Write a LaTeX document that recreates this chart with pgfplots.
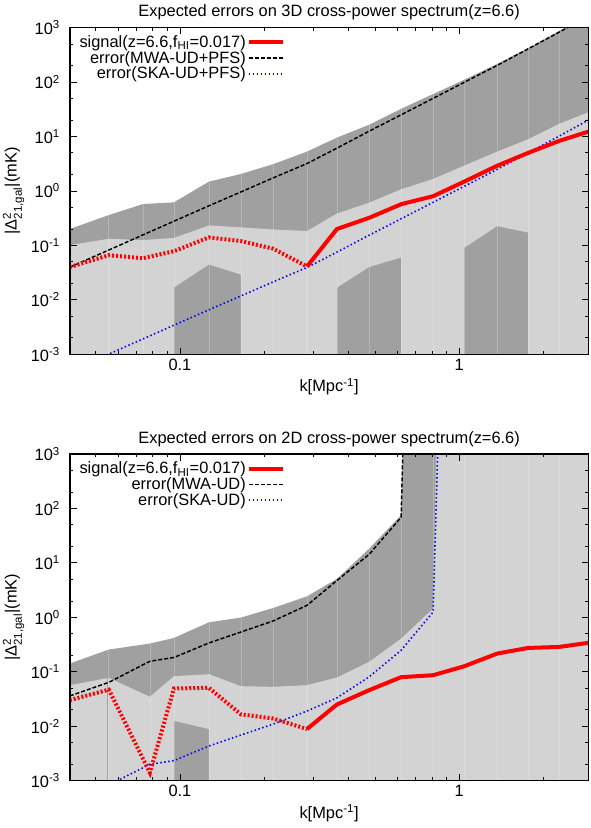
\documentclass[border=0pt]{standalone}
\usepackage{fontspec}
\setmainfont{Liberation Sans}
\usepackage{amsmath}
\usepackage{pgfplots}
\pgfplotsset{compat=1.18}
\definecolor{darkfill}{RGB}{160,160,160}
\definecolor{lightfill}{RGB}{211,211,211}
\newcommand{\ff}{\fontsize{12.3}{14}\selectfont}
\pgfplotsset{legend image code/.code={\draw[#1] (0pt,0pt) -- (25.5pt,0pt);}}
\pgfplotsset{
  every axis/.append style={
    scale only axis, width=388.7pt, height=245pt,
    xmin=0.0404, xmax=2.9, ymin=1e-3, ymax=1e3,
    xtick={0.1,1}, xticklabels={0.1,1},
    minor xtick={0.05,0.06,0.07,0.08,0.09,0.2,0.3,0.4,0.5,0.6,0.7,0.8,0.9,2},
    ytick={1e-3,1e-2,1e-1,1,10,100,1000},
    yticklabels={10\textsuperscript{-3},10\textsuperscript{-2},10\textsuperscript{-1},10\textsuperscript{0},10\textsuperscript{1},10\textsuperscript{2},10\textsuperscript{3}},
    minor ytick={2e-3,5e-3,2e-2,5e-2,0.2,0.5,2,5,20,50,200,500},
    tick align=inside, major tick length=5pt, minor tick length=2.6pt,
    axis line style={line width=0.9pt},
    axis on top,
    tick label style={font=\ff},
    yticklabel style={xshift=-4pt},
    every axis title shift=0pt,
    title style={at={(0.5,1)}, anchor=base, yshift=8pt, font=\ff},
    xlabel={k[Mpc\textsuperscript{-1}]},
    xlabel style={at={(0.5,0)}, anchor=base, yshift=-28.3pt, font=\ff},
    ylabel={|Δ$^{\text{2}}_{\text{21,gal}}$|(mK)},
    ylabel style={at={(axis description cs:-0.109,0.5)}, anchor=center, font=\ff},
    legend style={at={(axis description cs:0.4225,0.988)}, anchor=north east, draw=none, fill=none,
      nodes={inner sep=0.7pt}, font=\ff,
      /tikz/every even column/.append style={column sep=5pt}},
    legend cell align=right,
    legend plot pos=right,
    unbounded coords=jump,
  },
  every tick/.append style={black, line width=0.6pt},
}
\begin{document}
\begin{tikzpicture}
\path[use as bounding box] (0,0) rectangle (442.5pt,621pt);
% ---------------- top panel ----------------
\begin{loglogaxis}[at={(52.5pt,355.3pt)}, anchor=south west,
  title={Expected errors on 3D cross-power spectrum(z=6.6)}]
\addlegendimage{red, line width=3pt}\addlegendentry{signal(z=6.6,f\textsubscript{HI}=0.017)}
\addlegendimage{black, line width=1.1pt, dash pattern=on 3pt off 1.5pt}\addlegendentry{error(MWA-UD+PFS)}
\addlegendimage{blue, line width=1.2pt, dash pattern=on 1.1pt off 1.9pt}\addlegendentry{error(SKA-UD+PFS)}
% dark band
\addplot[fill=darkfill, draw=none, forget plot] coordinates {
(0.04034,0.20) (0.05565,0.36) (0.07371,0.574) (0.09517,0.617) (0.12700,1.48) (0.16544,2.05)
(0.21544,3.09) (0.28514,5.27) (0.36530,9.55) (0.47586,16.4) (0.61966,32.2) (0.80675,60.1)
(1.0421,110) (1.3683,215) (1.7674,420) (2.2829,870) (2.9483,1800) (2.9483,1e-4) (0.04034,1e-4)} -- cycle;
% light band
\addplot[fill=lightfill, draw=none, forget plot] coordinates {
(0.04034,0.101) (0.05565,0.132) (0.07371,0.125) (0.09517,0.137) (0.12700,0.232) (0.16544,0.214)
(0.21544,0.196) (0.28514,0.183) (0.36530,0.386) (0.47586,0.607) (0.61966,1.07) (0.80675,1.66)
(1.0421,2.91) (1.3683,5.27) (1.7674,8.9) (2.2829,17.1) (2.9483,28.8)
(2.9483,1e-4) (1.7674,1e-4) (1.7674,0.172) (1.3683,0.226) (1.0421,0.090) (1.0421,1e-4)
(0.61966,1e-4) (0.61966,0.060) (0.47586,0.040) (0.36530,0.0168) (0.36530,1e-4)
(0.16544,1e-4) (0.16544,0.0291) (0.12700,0.0445) (0.09517,0.0168) (0.09517,1e-4) (0.04034,1e-4)} -- cycle;
% faint bin lines
\addplot[white, opacity=0.22, line width=0.5pt, forget plot] coordinates {
(0.05565,1e-4) (0.05565,0.36) (0.05565,nan)
(0.07371,1e-4) (0.07371,0.574) (0.07371,nan)
(0.09517,1e-4) (0.09517,0.617) (0.09517,nan)
(0.12700,1e-4) (0.12700,1.48) (0.12700,nan)
(0.16544,1e-4) (0.16544,2.05) (0.16544,nan)
(0.21544,1e-4) (0.21544,3.09) (0.21544,nan)
(0.28514,1e-4) (0.28514,5.27) (0.28514,nan)
(0.36530,1e-4) (0.36530,9.55) (0.36530,nan)
(0.47586,1e-4) (0.47586,16.4) (0.47586,nan)
(0.61966,1e-4) (0.61966,32.2) (0.61966,nan)
(0.80675,1e-4) (0.80675,60.1) (0.80675,nan)
(1.0421,1e-4) (1.0421,110) (1.0421,nan)
(1.3683,1e-4) (1.3683,215) (1.3683,nan)
(1.7674,1e-4) (1.7674,420) (1.7674,nan)
(2.2829,1e-4) (2.2829,870)};
% MWA error
\addplot[black, line width=1.1pt, dash pattern=on 3pt off 1.5pt, forget plot] coordinates {
(0.04034,0.0397) (0.05565,0.0822) (0.07371,0.1556) (0.09517,0.278) (0.12700,0.533) (0.16544,0.959)
(0.21544,1.73) (0.28514,3.18) (0.36530,6.12) (0.47586,12.5) (0.61966,25.0) (0.80675,50.1)
(1.0421,98.6) (1.3683,202) (1.7674,408) (2.2829,826) (2.9483,1700)};
% SKA error
\addplot[blue, line width=1.2pt, dash pattern=on 1.1pt off 1.9pt, forget plot] coordinates {
(0.04034,4.89e-4) (0.05565,1.01e-3) (0.07371,1.91e-3) (0.09517,3.42e-3) (0.12700,6.56e-3) (0.16544,0.0118)
(0.21544,0.0213) (0.28514,0.0392) (0.36530,0.0753) (0.47586,0.1535) (0.61966,0.308) (0.80675,0.617)
(1.0421,1.213) (1.3683,2.49) (1.7674,5.02) (2.2829,10.16) (2.9483,20.9)};
% signal (negative part dotted)
\addplot[red, line width=3pt, dash pattern=on 1.5pt off 1.5pt, forget plot] coordinates {
(0.04034,0.040) (0.05565,0.066) (0.07371,0.058) (0.09517,0.078) (0.12700,0.14) (0.16544,0.12)
(0.21544,0.087) (0.28514,0.041)};
\addplot[red, line width=3pt, forget plot] coordinates {
(0.28514,0.041) (0.36530,0.20) (0.47586,0.32) (0.61966,0.57) (0.80675,0.80) (1.0421,1.48)
(1.3683,2.9) (1.7674,5.0) (2.2829,8.3) (2.9483,12.6)};
\end{loglogaxis}
% ---------------- bottom panel ----------------
\begin{loglogaxis}[at={(52.5pt,35.5pt)}, anchor=south west,
  title={Expected errors on 2D cross-power spectrum(z=6.6)}]
\addlegendimage{red, line width=3pt}\addlegendentry{signal(z=6.6,f\textsubscript{HI}=0.017)}
\addlegendimage{black, line width=1.1pt, dash pattern=on 3pt off 1.5pt}\addlegendentry{error(MWA-UD)}
\addlegendimage{blue, line width=1.2pt, dash pattern=on 1.1pt off 1.9pt}\addlegendentry{error(SKA-UD)}
\addplot[fill=darkfill, draw=none, forget plot] coordinates {
(0.04034,0.142) (0.05565,0.256) (0.07808,0.33) (0.09517,0.418) (0.12700,0.81) (0.16544,0.99)
(0.21544,1.48) (0.28514,2.43) (0.36530,5.1) (0.47586,18.2) (0.61966,75) (0.80675,1e24)
(2.9483,1e24) (2.9483,1e-4) (0.04034,1e-4)} -- cycle;
\addplot[fill=lightfill, draw=none, forget plot] coordinates {
(0.04034,0.0568) (0.05565,0.0773) (0.07808,0.0347) (0.09517,0.083) (0.12700,0.0903) (0.16544,0.0544)
(0.21544,0.0528) (0.28514,0.0568) (0.36530,0.0785) (0.47586,0.152) (0.61966,0.407) (0.80675,1.45)
(1.0421,1e30) (2.9483,1e30) (2.9483,1e-4)
(0.12700,1e-4) (0.12700,0.00887) (0.09517,0.0126) (0.09517,1e-4) (0.04034,1e-4)} -- cycle;
\addplot[darkfill, line width=0.8pt, forget plot] coordinates {(0.0551,1e-4) (0.0551,0.076)};
\addplot[white, opacity=0.22, line width=0.5pt, forget plot] coordinates {
(0.05565,1e-4) (0.05565,0.256) (0.05565,nan)
(0.07808,1e-4) (0.07808,0.33) (0.07808,nan)
(0.09517,1e-4) (0.09517,0.418) (0.09517,nan)
(0.12700,1e-4) (0.12700,0.81) (0.12700,nan)
(0.16544,1e-4) (0.16544,0.99) (0.16544,nan)
(0.21544,1e-4) (0.21544,1.48) (0.21544,nan)
(0.28514,1e-4) (0.28514,2.43) (0.28514,nan)
(0.36530,1e-4) (0.36530,5.1) (0.36530,nan)
(0.47586,1e-4) (0.47586,18.2) (0.47586,nan)
(0.61966,1e-4) (0.61966,75) (0.61966,nan)
(0.80675,1e-4) (0.80675,1e5) (0.80675,nan)
(1.0421,1e-4) (1.0421,1e5) (1.0421,nan)
(1.3683,1e-4) (1.3683,1e5) (1.3683,nan)
(1.7674,1e-4) (1.7674,1e5) (1.7674,nan)
(2.2829,1e-4) (2.2829,1e5)};
\addplot[black, line width=1.1pt, dash pattern=on 3pt off 1.5pt, forget plot] coordinates {
(0.04034,0.036) (0.05565,0.064) (0.07808,0.156) (0.09517,0.183) (0.12700,0.338) (0.16544,0.538)
(0.21544,0.855) (0.28514,1.66) (0.36530,4.76) (0.47586,14.3) (0.61966,68.9) (0.80675,1e24)};
\addplot[blue, line width=1.2pt, dash pattern=on 1.1pt off 1.9pt, forget plot] coordinates {
(0.04034,3.7e-4) (0.05565,8.3e-4) (0.07808,0.0020) (0.09517,0.00233) (0.12700,0.00433) (0.16544,0.00689)
(0.21544,0.0109) (0.28514,0.019) (0.36530,0.0332) (0.47586,0.0805) (0.61966,0.248) (0.80675,1.25)
(1.0421,1e20)};
\addplot[red, line width=3pt, dash pattern=on 1.5pt off 1.5pt, forget plot] coordinates {
(0.04034,0.0301) (0.05565,0.047) (0.07808,0.0014) (0.09517,0.0493) (0.12700,0.0507) (0.16544,0.0165)
(0.21544,0.0139) (0.28514,0.00887)};
\addplot[red, line width=3pt, forget plot] coordinates {
(0.28514,0.00887) (0.36530,0.0251) (0.47586,0.0459) (0.61966,0.0796) (0.80675,0.0865) (1.0421,0.126)
(1.3683,0.216) (1.7674,0.274) (2.2829,0.286) (2.9483,0.344)};
\end{loglogaxis}
\end{tikzpicture}
\end{document}
